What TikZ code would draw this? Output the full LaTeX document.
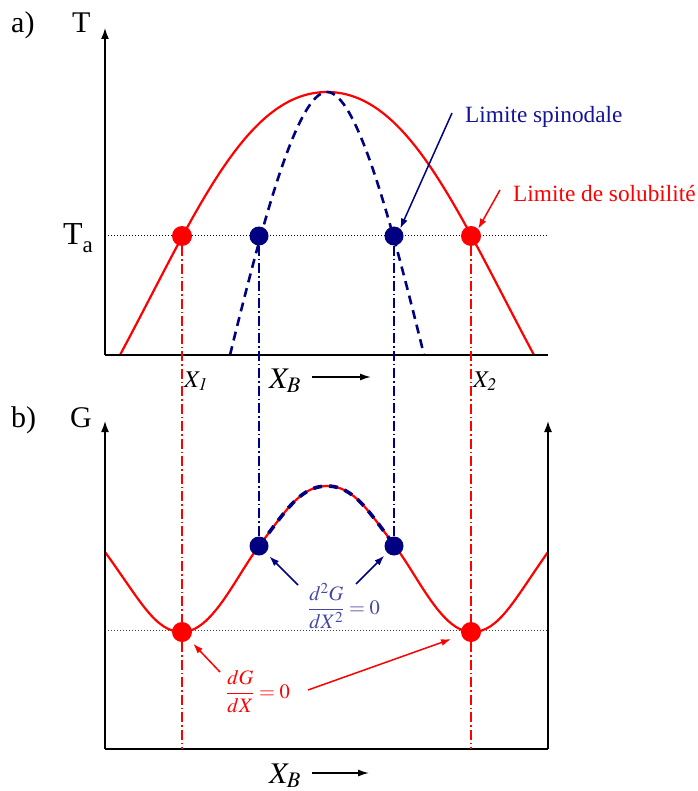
\documentclass[tikz,border=0pt]{standalone}
\usepackage{mathptmx}
\usepackage[no-math]{fontspec}
\setmainfont{Liberation Serif}
\usetikzlibrary{arrows.meta}
\definecolor{dred}{RGB}{255,0,0}
\definecolor{dblue}{RGB}{0,0,128}
\definecolor{sptext}{RGB}{20,20,150}
\definecolor{fracblue}{RGB}{70,70,165}
\newcommand\fsz[1]{\fontsize{#1}{#1}\selectfont}
\begin{document}
\begin{tikzpicture}[x=1pt,y=-1pt,
  axis/.style={line width=1.5pt,black},
  axarrow/.style={axis,-{Latex[length=11pt,width=8pt]}},
  redcurve/.style={line width=2.2pt,dred},
  bluedash/.style={line width=2.6pt,dblue,dash pattern=on 9pt off 6pt},
  bluedashG/.style={line width=3.6pt,dblue,dash pattern=on 9pt off 7pt},
  vred/.style={line width=1.2pt,dred,dash pattern=on 10pt off 3pt on 1.5pt off 3pt},
  vblue/.style={line width=1.2pt,dblue,dash pattern=on 10pt off 3pt on 1.5pt off 3pt},
  dotline/.style={line width=1pt,dash pattern=on 1pt off 2pt},
  reddot/.style={circle,fill=dred,inner sep=0pt,minimum size=20pt},
  bluedot/.style={circle,fill=dblue,inner sep=0pt,minimum size=19pt},
  ptr/.style={-{Latex[length=10pt,width=7pt]},line width=1.5pt},
  lbl/.style={inner sep=0pt,anchor=base west},
  txt/.style={inner sep=0pt}]
\useasboundingbox (0,0) rectangle (697,791);

% ---------- coordinates ----------
\coordinate (oA) at (105,355);
\coordinate (yA) at (105,28);
\coordinate (xA) at (548,355);
\coordinate (oB) at (105,749);
\coordinate (yB) at (105,421);
\coordinate (xB) at (548,749);
\coordinate (yB2) at (548,421);
\coordinate (taL) at (105,236);
\coordinate (taR) at (548,236);
\coordinate (gL) at (105,630);
\coordinate (gR) at (548,630);
\coordinate (ax1) at (182,749);
\coordinate (ax2) at (471,749);

% ---------- panel a ----------
\draw[dotline] (taL) -- (taR);
\draw[redcurve] (120,355) .. controls (195,215) and (245,92) .. (327,92)
                .. controls (409,92) and (459,215) .. (534,355);
\draw[bluedash] (230,355) .. controls (262,225) and (297,92) .. (327,92)
                .. controls (357,92) and (392,225) .. (424,355);
\draw[axarrow] (oA) -- (yA);
\draw[axis] (oA) -- (xA);

% ---------- panel b ----------
\draw[dotline,black!75] (gL) -- (gR);
\draw[redcurve] (105,552) .. controls (140,600) and (155,632) .. (182,632)
   .. controls (212,632) and (235,578) .. (259,546)
   .. controls (285,512) and (300,486) .. (327,486)
   .. controls (354,486) and (369,512) .. (395,546)
   .. controls (419,578) and (442,632) .. (472,632)
   .. controls (499,632) and (514,600) .. (548,552);
\draw[bluedashG] (259,546) .. controls (285,512) and (300,486) .. (327,486)
   .. controls (354,486) and (369,512) .. (395,546);
\draw[axarrow] (oB) -- (yB);
\draw[axis] (oB) -- (xB);
\draw[axarrow] (xB) -- (yB2);

% ---------- dots ----------
\node[reddot]  (r1) at (182,236) {};
\node[bluedot] (b1) at (259,236) {};
\node[bluedot] (b2) at (394,236) {};
\node[reddot]  (r2) at (471,236) {};
\node[reddot]  (gr1) at (182,632) {};
\node[bluedot] (gb1) at (259,546) {};
\node[bluedot] (gb2) at (394,546) {};
\node[reddot]  (gr2) at (471,632) {};

% ---------- vertical construction lines ----------
\draw[vred]  (r1.south) -- (gr1.north);
\draw[vred]  (gr1.south) -- (ax1);
\draw[vred]  (r2.south) -- (gr2.north);
\draw[vred]  (gr2.south) -- (ax2);
\draw[vblue] (b1.south) -- (gb1.north);
\draw[vblue] (b2.south) -- (gb2.north);

% ---------- labels panel a ----------
\node[lbl] (la) at (11,33) {\fsz{30}a)};
\node[lbl] (lT) at (72,33) {\fsz{30}T};
\node[lbl] (lTa) at (63,245) {\fsz{32}T\raisebox{-8pt}{\fsz{23}a}};
\node[lbl] (lX1) at (184,387) {\fsz{24}$X_{\mathit{1}}$};
\node[lbl] (lXB) at (269,388) {\fsz{30}$X_B$};
\node[lbl] (lX2) at (473,387) {\fsz{24}$X_{\mathit{2}}$};
\coordinate (aXs) at (312,377);
\coordinate (aXe) at (371,377);
\draw[axis,-{Latex[length=11pt,width=7pt]}] (aXs) -- (aXe);

\node[lbl,text=sptext] (spin) at (465,123) {\fsz{23.3}Limite spinodale};
\node[lbl,text=dred] (solu) at (513,202) {\fsz{23.3}Limite de solubilité};
\coordinate (spinT) at (452,113);
\coordinate (soluT) at (500,190);
\draw[ptr,dblue] (spinT) -- (b2.50);
\draw[ptr,dred] (soluT) -- (r2.45);

% ---------- labels panel b ----------
\node[lbl] (lb) at (11,427) {\fsz{30}b)};
\node[lbl] (lG) at (70,427) {\fsz{30}G};
\node[lbl] (lXB2) at (269,783) {\fsz{30}$X_B$};
\coordinate (bXs) at (312,773);
\coordinate (bXe) at (369,773);
\draw[axis,-{Latex[length=11pt,width=7pt]}] (bXs) -- (bXe);

\node[txt,text=fracblue] (f2) at (344,606) {\fsz{20.5}$\displaystyle\frac{d^2G}{dX^2}=0$};
\node[txt,text=dred] (f1) at (258,692) {\fsz{20.5}$\displaystyle\frac{dG}{dX}=0$};
\coordinate (f2a) at (298,585);
\coordinate (f2b) at (356,584);
\coordinate (f1a) at (220,672);
\coordinate (f1b) at (308,690);
\draw[ptr,dblue,shorten >=5pt] (f2a) -- (gb1);
\draw[ptr,dblue,shorten >=4pt] (f2b) -- (gb2);
\draw[ptr,dred,shorten >=6pt] (f1a) -- (gr1);
\draw[ptr,dred,shorten >=11pt] (f1b) -- (gr2);
\end{tikzpicture}
\end{document}
